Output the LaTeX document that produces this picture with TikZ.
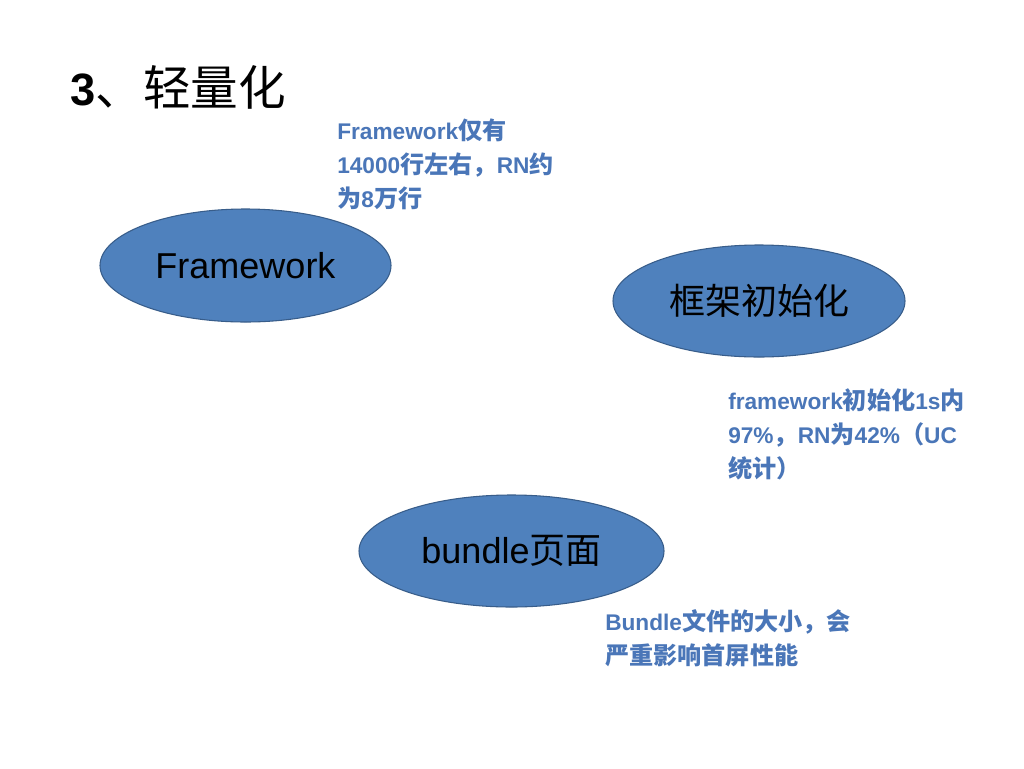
\documentclass[tikz,border=0pt]{standalone}
\usepackage{fontspec}
\setmainfont{Liberation Sans}
\newfontfamily\cjk{Noto Sans CJK SC}
\newfontfamily\cjkn[Scale=1.065]{Noto Sans CJK SC}
\newfontfamily\cjkt[Scale=1.05]{Noto Sans CJK SC}
\usetikzlibrary{shapes.geometric}
\definecolor{ellfill}{HTML}{4F81BD}
\definecolor{elldraw}{HTML}{385D8A}
\definecolor{notecol}{HTML}{4A76B8}
\tikzset{
  bubble/.style={ellipse, fill=ellfill, draw=elldraw, line width=0.8pt, inner sep=0pt, font=\fontsize{27}{32}\selectfont, text=black},
  note/.style={anchor=north west, inner sep=0pt, align=left, text=notecol, font=\fontsize{17}{25.5}\selectfont\bfseries},
  titletext/.style={anchor=base west, inner sep=0pt, font=\fontsize{34}{40}\selectfont}
}
\begin{document}
\begin{tikzpicture}[x=0.75pt,y=-0.75pt]
\useasboundingbox[fill=white] (0,0) rectangle (1024,768);
\node[titletext] (title) at (70,105) {\textbf{3}{\cjkt 、轻量化}};
\node[bubble, minimum width=291*0.75pt, minimum height=113*0.75pt] (fw) at (245.5,265.5) {Framework};
\node[bubble, minimum width=292*0.75pt, minimum height=112*0.75pt] (init) at (759,301) {\cjk 框架初始化};
\node[bubble, minimum width=305*0.75pt, minimum height=112*0.75pt] (bundle) at (511.5,551) {bundle{\cjk 页面}};
\node[note] (n1) at (337,119) {Framework{\cjkn 仅有}\\14000{\cjkn 行左右，}RN{\cjkn 约}\\{\cjkn 为}8{\cjkn 万行}};
\node[note] (n2) at (728,388) {framework{\cjkn 初始化}1s{\cjkn 内}\\97\%{\cjkn ，}RN{\cjkn 为}42\%{\cjkn （}UC\\{\cjkn 统计）}};
\node[note] (n3) at (605,609) {Bundle{\cjkn 文件的大小，会}\\{\cjkn 严重影响首屏性能}};
\end{tikzpicture}
\end{document}
